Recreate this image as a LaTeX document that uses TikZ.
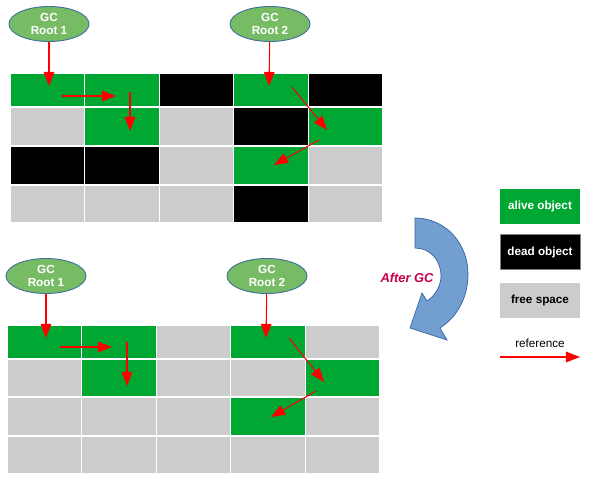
\documentclass[tikz,border=0pt]{standalone}
\usepackage{fontspec}
\setmainfont{Liberation Sans}
\usetikzlibrary{shapes.geometric,arrows.meta}

\definecolor{alivegreen}{RGB}{0,168,51}
\definecolor{freegray}{RGB}{204,204,204}
\definecolor{rootfill}{RGB}{119,188,101}
\definecolor{rootline}{RGB}{65,113,156}
\definecolor{gcblue}{RGB}{114,159,207}
\definecolor{gcblueline}{RGB}{52,101,164}
\definecolor{aftergc}{RGB}{197,0,75}

\tikzset{
  cell/.style={draw=white, line width=1pt},
  alive/.style={fill=alivegreen},
  dead/.style={fill=black},
  free/.style={fill=freegray},
  root/.style={ellipse, draw=rootline, line width=0.8pt, fill=rootfill, text=white,
    minimum width=2.4cm, minimum height=1.05cm, inner sep=0pt, align=center,
    font=\fontsize{10}{11.5}\selectfont\bfseries},
  key/.style={rectangle, minimum width=2.4cm, minimum height=1.05cm, inner sep=0pt,
    font=\fontsize{10}{12}\selectfont\bfseries},
  ref/.style={red, line width=0.9pt, -{Triangle[length=12pt, width=9pt]}}
}

\begin{document}
\begin{tikzpicture}[x=0.03cm, y=-0.03cm]
\useasboundingbox (0,0) rectangle (593,479);

% Heap before GC
\foreach \k [count=\c] in {alive,alive,dead,alive,dead}
  \draw[cell,\k] ({10+74.6*(\c-1)},73) rectangle ++(74.6,34);
\foreach \k [count=\c] in {free,alive,free,dead,alive}
  \draw[cell,\k] ({10+74.6*(\c-1)},107) rectangle ++(74.6,39);
\foreach \k [count=\c] in {dead,dead,free,alive,free}
  \draw[cell,\k] ({10+74.6*(\c-1)},146) rectangle ++(74.6,39);
\foreach \k [count=\c] in {free,free,free,dead,free}
  \draw[cell,\k] ({10+74.6*(\c-1)},185) rectangle ++(74.6,38);

% Heap after GC
\foreach \k [count=\c] in {alive,alive,free,alive,free}
  \draw[cell,\k] ({7+74.6*(\c-1)},325) rectangle ++(74.6,34);
\foreach \k [count=\c] in {free,alive,free,free,alive}
  \draw[cell,\k] ({7+74.6*(\c-1)},359) rectangle ++(74.6,38);
\foreach \k [count=\c] in {free,free,free,alive,free}
  \draw[cell,\k] ({7+74.6*(\c-1)},397) rectangle ++(74.6,39);
\foreach \k [count=\c] in {free,free,free,free,free}
  \draw[cell,\k] ({7+74.6*(\c-1)},436) rectangle ++(74.6,38);

% Nodes
\node[root] (r1) at (49,24) {GC\\Root 1};
\node[root] (r2) at (270,24) {GC\\Root 2};
\node[root] (r3) at (46,276) {GC\\Root 1};
\node[root] (r4) at (267,276) {GC\\Root 2};

\coordinate (t1) at (49,86);
\coordinate (t2a) at (62,96);   \coordinate (t2b) at (116,96);
\coordinate (t3a) at (130,92);  \coordinate (t3b) at (130,131);
\coordinate (t4) at (269,86);
\coordinate (t5a) at (292,87);  \coordinate (t5b) at (327,130);
\coordinate (t6a) at (319,140); \coordinate (t6b) at (274,165);

\coordinate (b1) at (46,338);
\coordinate (b2a) at (60,347);  \coordinate (b2b) at (112,347);
\coordinate (b3a) at (127,342); \coordinate (b3b) at (127,386);
\coordinate (b4) at (266,338);
\coordinate (b5a) at (289,338); \coordinate (b5b) at (324,382);
\coordinate (b6a) at (316,391); \coordinate (b6b) at (271,417);

% References
\draw[ref] (r1) -- (t1);
\draw[ref] (t2a) -- (t2b);
\draw[ref] (t3a) -- (t3b);
\draw[ref] (r2) -- (t4);
\draw[ref] (t5a) -- (t5b);
\draw[ref] (t6a) -- (t6b);

\draw[ref] (r3) -- (b1);
\draw[ref] (b2a) -- (b2b);
\draw[ref] (b3a) -- (b3b);
\draw[ref] (r4) -- (b4);
\draw[ref] (b5a) -- (b5b);
\draw[ref] (b6a) -- (b6b);

% Curved arrow
\filldraw[fill=gcblue, draw=gcblueline, line width=0.6pt]
  (415,218) .. controls (445,218) and (468,243) .. (468,274)
  .. controls (468,298) and (457,317) .. (440,328)
  -- (447,340) -- (410,328) -- (422,293) -- (427,301)
  .. controls (436,295) and (441,285) .. (441,276)
  .. controls (441,260) and (430,248) .. (415,248) -- cycle;
\node[text=aftergc, font=\fontsize{11}{13}\selectfont\bfseries\itshape] (after) at (407,278) {After GC};

% Legend
\node[key, fill=alivegreen, text=white] (kalive) at (540,206.5) {alive object};
\node[key, fill=black, draw=gray, text=white] (kdead) at (540,252) {dead object};
\node[key, fill=freegray] (kfree) at (540,300.5) {free space};
\node[font=\fontsize{10}{12}\selectfont] (kref) at (540,343) {reference};
\coordinate (ka) at (500,357);
\coordinate (kb) at (580,357);
\draw[ref] (ka) -- (kb);
\end{tikzpicture}
\end{document}
